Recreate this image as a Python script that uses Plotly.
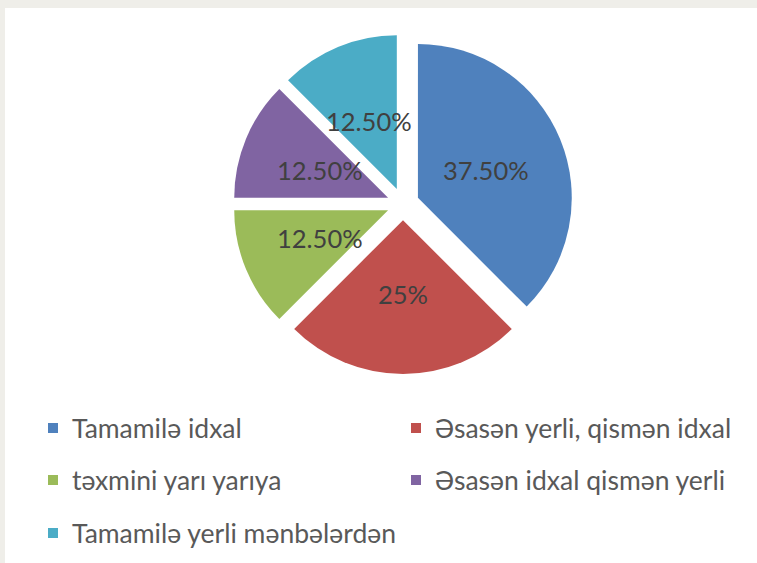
import math
import plotly.graph_objects as go

# ---- data ----
categories = ["Tamamilə idxal", "Əsasən yerli, qismən idxal", "təxmini yarı yarıya",
              "Əsasən idxal qismən yerli", "Tamamilə yerli mənbələrdən"]
values = [37.5, 25, 12.5, 12.5, 12.5]
value_labels = ["37.50%", "25%", "12.50%", "12.50%", "12.50%"]
colors = ["#4F81BD", "#C0504D", "#9BBB59", "#8064A2", "#4BACC6"]

W, H = 757, 563
PULL = 0.105
# pie box in pixels (screen coords)
bx0, bx1 = 233, 573
by0, by1 = 34, 374
dom_x = [bx0 / W, bx1 / W]
dom_y = [1 - by1 / H, 1 - by0 / H]

fig = go.Figure()
fig.add_trace(go.Pie(
    labels=categories, values=values, sort=False, direction="clockwise", rotation=0,
    marker=dict(colors=colors, line=dict(width=0)),
    pull=[PULL] * len(values), textinfo="none", hoverinfo="label+percent",
    domain=dict(x=dom_x, y=dom_y), showlegend=False,
))

# label positions derived from the values (Excel places them mid-radius on the bisector)
cx_px = (bx0 + bx1) / 2
cy_px = (by0 + by1) / 2
r = min(bx1 - bx0, by1 - by0) / (2 * (1 + PULL))
total = sum(values)
cum = 0
annotations = []
for v, t in zip(values, value_labels):
    mid = (cum + v / 2) / total * 2 * math.pi
    cum += v
    d = PULL * r + 0.48 * r
    px = cx_px + d * math.sin(mid)
    py = cy_px - d * math.cos(mid)
    annotations.append(dict(x=px / W, y=1 - py / H, xref="paper", yref="paper",
                            text=t, showarrow=False, xanchor="center", yanchor="middle",
                            font=dict(family="Lato", size=25.5, color="#404040")))

# legend (two columns, built from categories/colors)
shapes = [dict(type="rect", xref="paper", yref="paper", x0=5 / W, x1=1, y0=0, y1=1 - 8 / H,
               fillcolor="white", line=dict(width=0), layer="below")]
col_x = [48, 411]
row_y = [428, 480, 533]
sq = 10
for i, (name, c) in enumerate(zip(categories, colors)):
    x = col_x[i % 2]
    y = row_y[i // 2]
    shapes.append(dict(type="rect", xref="paper", yref="paper",
                       x0=x / W, x1=(x + sq) / W, y0=1 - (y + sq / 2) / H, y1=1 - (y - sq / 2) / H,
                       fillcolor=c, line=dict(width=0)))
    annotations.append(dict(x=(x + 22) / W, y=1 - y / H, xref="paper", yref="paper",
                            text=name, showarrow=False, xanchor="left", yanchor="middle",
                            font=dict(family="Lato", size=26.5, color="#595959")))

fig.update_layout(
    width=W, height=H, margin=dict(l=0, r=0, t=0, b=0),
    paper_bgcolor="#EFEEE9", shapes=shapes, annotations=annotations,
)
fig.write_html("out.html", config={"displayModeBar": False},
               post_script="document.body.style.margin='0';")
